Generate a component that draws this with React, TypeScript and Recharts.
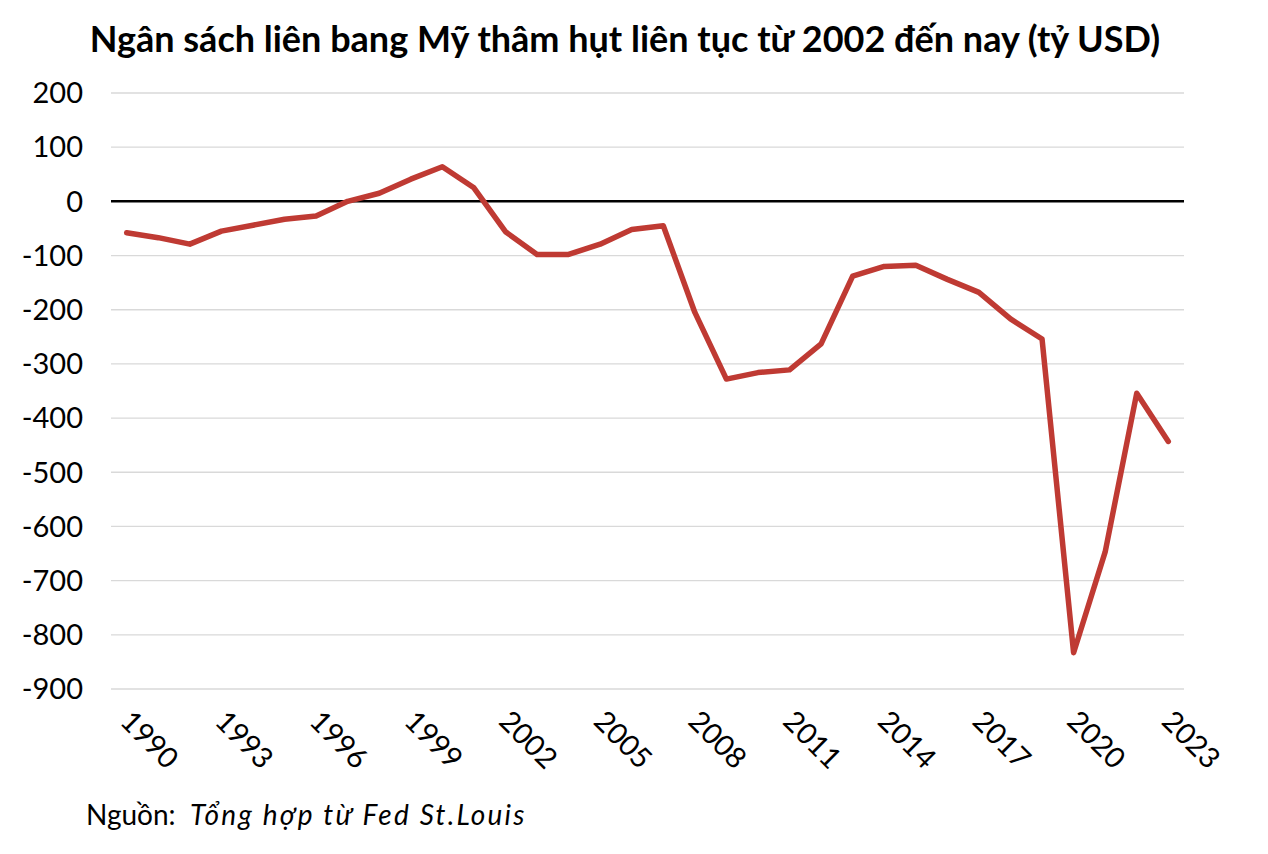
import React from 'react';
import { LineChart, Line, XAxis, YAxis, CartesianGrid, ReferenceLine } from 'recharts';

// Cán cân ngân sách liên bang Mỹ, tỷ USD
const years = [
  '1990', '1991', '1992', '1993', '1994', '1995', '1996', '1997', '1998', '1999',
  '2000', '2001', '2002', '2003', '2004', '2005', '2006', '2007', '2008', '2009',
  '2010', '2011', '2012', '2013', '2014', '2015', '2016', '2017', '2018', '2019',
  '2020', '2021', '2022', '2023',
];

const balance = [
  -58, -67, -79, -55, -44, -33, -27, 0, 15, 41,
  64, 25, -56, -98, -98, -79, -52, -45, -205, -328,
  -316, -311, -263, -138, -120, -118, -144, -168, -217, -254,
  -833, -647, -354, -443,
];

const yTicks = [200, 100, 0, -100, -200, -300, -400, -500, -600, -700, -800, -900];

const title = 'Ngân sách liên bang Mỹ thâm hụt liên tục từ 2002 đến nay (tỷ USD)';

const data = years.map((year, i) => ({ year, value: balance[i] }));

const FONT = 'Lato, "Noto Sans", sans-serif';

const YearTick = ({ x, y, payload }: any) => {
  const x0 = x - 8;
  const y0 = y + 26;
  return (
    <text
      x={x0}
      y={y0}
      transform={`rotate(45, ${x0}, ${y0})`}
      textAnchor="start"
      fontSize={29}
      fontFamily={FONT}
      fill="#000"
    >
      {payload.value}
    </text>
  );
};

export default function App() {
  return (
    <div
      style={{
        position: 'absolute',
        left: 0,
        top: 0,
        width: 1268,
        height: 854,
        background: '#fff',
        fontFamily: FONT,
      }}
    >
      <div
        style={{
          position: 'absolute',
          left: 0,
          top: 20,
          width: 1250,
          textAlign: 'center',
          fontSize: 36,
          lineHeight: 1,
          fontWeight: 700,
          color: '#000',
          whiteSpace: 'nowrap',
        }}
      >
        {title}
      </div>

      <LineChart
        width={1268}
        height={854}
        data={data}
        margin={{ top: 93, right: 84, bottom: 105, left: 0 }}
      >
        <CartesianGrid vertical={false} stroke="#d9d9d9" strokeWidth={1.3} />
        <XAxis
          dataKey="year"
          interval={2}
          axisLine={false}
          tickLine={false}
          height={60}
          padding={{ left: 15.7, right: 15.7 }}
          tick={<YearTick />}
        />
        <YAxis
          width={111}
          domain={[-900, 200]}
          ticks={yTicks}
          axisLine={false}
          tickLine={false}
          tickMargin={22}
          tick={{ fill: '#000', fontSize: 29, fontFamily: FONT }}
        />
        <ReferenceLine y={0} stroke="#000" strokeWidth={2.5} />
        <Line
          type="linear"
          dataKey="value"
          stroke="#BF3A33"
          strokeWidth={5.5}
          strokeLinejoin="round"
          strokeLinecap="round"
          dot={false}
          isAnimationActive={false}
        />
      </LineChart>

      <div
        style={{
          position: 'absolute',
          left: 86,
          top: 800,
          fontSize: 28,
          lineHeight: 1,
          color: '#000',
          whiteSpace: 'nowrap',
        }}
      >
        Nguồn:&nbsp;{' '}
        <span style={{ fontStyle: 'italic', letterSpacing: 2.2 }}>Tổng hợp từ Fed St.Louis</span>
      </div>
    </div>
  );
}
